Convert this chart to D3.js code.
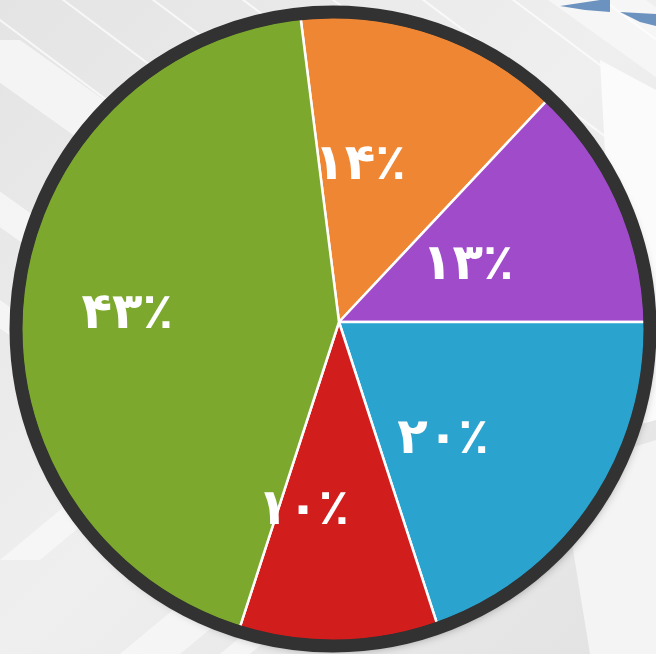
<!DOCTYPE html>
<html>
<head>
<meta charset="utf-8">
<script src="https://cdn.jsdelivr.net/npm/d3@7"></script>
<style>
  html, body { margin: 0; padding: 0; background: #ececec; }
  svg { display: block; }
</style>
</head>
<body>
<div id="chart"></div>
<script>
// slice data, clockwise from the top
const categories = ["orange", "purple", "blue", "red", "green"];
const values = [14, 13, 20, 10, 43];
const labels = ["۱۴٪", "۱۳٪", "۲۰٪", "۱۰٪", "۴۳٪"];
const colors = ["#ef8634", "#a04bc9", "#2aa3cf", "#d21d1d", "#7ca92d"];

((() => {
  let width = 656;
  let height = 654;

  let svg = d3.select("#chart")
    .append("svg")
    .attr("width", width)
    .attr("height", height);

  let defs = svg.append("defs");

  // background: pale gray with white diagonal bands
  let bgGrad = defs.append("linearGradient").attr("id", "bg")
    .attr("x1", 0).attr("y1", 0).attr("x2", 1).attr("y2", 1);
  bgGrad.append("stop").attr("offset", 0).attr("stop-color", "#e4e4e4");
  bgGrad.append("stop").attr("offset", 0.5).attr("stop-color", "#efefef");
  bgGrad.append("stop").attr("offset", 1).attr("stop-color", "#e2e2e2");
  svg.append("rect").attr("width", width).attr("height", height).attr("fill", "url(#bg)");

  let bg = svg.append("g");
  // "\" bands top-left and top-right
  [[-60, 40, 80], [-80, 170, 50], [-40, 300, 40], [380, -120, 60], [480, -90, 40]].forEach(b => {
    let [x, y, w] = b;
    bg.append("path")
      .attr("d", `M${x},${y} l${w},0 l420,300 l-${w},0 Z`)
      .attr("fill", "#f8f8f8").attr("opacity", 0.8);
  });
  // "/" bands bottom left
  [[120, 654, 60], [220, 654, 30], [0, 560, 40]].forEach(b => {
    let [x, y, w] = b;
    bg.append("path")
      .attr("d", `M${x},${y} l${w},0 l240,-200 l-${w},0 Z`)
      .attr("fill", "#f7f7f7").attr("opacity", 0.8);
  });
  // thin white lines
  d3.range(0, 8).forEach(i => {
    bg.append("line")
      .attr("x1", -40 + i * 90).attr("y1", -10)
      .attr("x2", 360 + i * 90).attr("y2", 290)
      .attr("stroke", "#ffffff").attr("stroke-width", 2).attr("opacity", 0.7);
  });
  // right side panels
  bg.append("path").attr("d", "M600,60 L656,90 L656,420 L620,430 Z").attr("fill", "#fbfbfb");
  bg.append("path").attr("d", "M560,470 L656,440 L656,654 L590,654 Z").attr("fill", "#f4f4f4");

  // blue arrow at top right
  bg.append("path")
    .attr("d", "M560,6 L600,0 L610,0 L610,12 L585,10 Z")
    .attr("fill", "#6c93bf");
  bg.append("path")
    .attr("d", "M620,12 L656,14 L656,26 L640,22 Z")
    .attr("fill", "#6c93bf");

  // pie geometry
  let pieCx = 339, pieCy = 322;
  let rimCx = 333, rimCy = 329, rimR = 311;
  let startDeg = -7.2;

  let pie = d3.pie()
    .sort(null)
    .value(d => d)
    .startAngle(startDeg * Math.PI / 180)
    .endAngle((startDeg + 360) * Math.PI / 180);

  let arcs = pie(values);

  let arc = d3.arc().innerRadius(0).outerRadius(340);

  defs.append("clipPath").attr("id", "disc")
    .append("circle").attr("cx", rimCx).attr("cy", rimCy).attr("r", rimR);

  defs.append("filter").attr("id", "shadow")
    .attr("x", "-10%").attr("y", "-10%").attr("width", "120%").attr("height", "120%")
    .append("feDropShadow")
    .attr("dx", 3).attr("dy", 5).attr("stdDeviation", 5)
    .attr("flood-color", "#000").attr("flood-opacity", 0.35);

  // shadow disc
  svg.append("circle")
    .attr("cx", rimCx).attr("cy", rimCy).attr("r", rimR + 6)
    .attr("fill", "#333").attr("filter", "url(#shadow)");

  let slices = svg.append("g")
    .attr("clip-path", "url(#disc)")
    .append("g")
    .attr("transform", `translate(${pieCx},${pieCy})`);

  slices.selectAll("path")
    .data(arcs)
    .enter()
    .append("path")
    .attr("d", arc)
    .attr("fill", (d, i) => colors[i])
    .attr("stroke", "#ffffff")
    .attr("stroke-width", 2.5)
    .attr("stroke-linejoin", "round");

  // dark rim
  svg.append("circle")
    .attr("cx", rimCx).attr("cy", rimCy).attr("r", rimR + 6)
    .attr("fill", "none")
    .attr("stroke", "#323232")
    .attr("stroke-width", 13);

  // labels: radius and angle nudge per slice (hand placed in the original)
  let labelRadius = [161, 142, 154, 188, 212];
  let labelNudge = [-10.5, -1.5, 11.5, 11, -2.4];

  svg.append("g")
    .attr("transform", `translate(${pieCx},${pieCy})`)
    .selectAll("text")
    .data(arcs)
    .enter()
    .append("text")
    .attr("transform", (d, i) => {
      let a = (d.startAngle + d.endAngle) / 2 + labelNudge[i] * Math.PI / 180;
      let r = labelRadius[i];
      return `translate(${r * Math.sin(a)},${-r * Math.cos(a)})`;
    })
    .attr("text-anchor", "middle")
    .attr("dominant-baseline", "central")
    .attr("direction", "ltr")
    .style("font-family", "'DejaVu Sans', sans-serif")
    .style("font-weight", "bold")
    .style("font-size", "50px")
    .style("letter-spacing", "1px")
    .attr("fill", "#ffffff")
    .text((d, i) => labels[i]);
})());
</script>
</body>
</html>
